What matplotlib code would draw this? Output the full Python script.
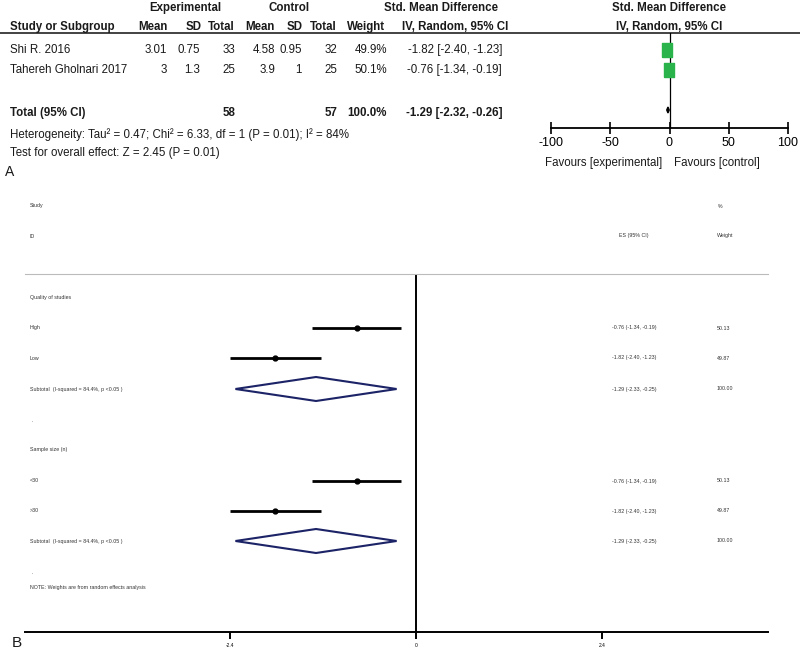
import matplotlib
matplotlib.use('Agg')
import matplotlib.pyplot as plt

# ---- panel A data (RevMan table) ----
studies = ['Shi R. 2016', 'Tahereh Gholnari 2017']
exp_mean = [3.01, 3]
exp_sd = [0.75, 1.3]
exp_n = [33, 25]
ctl_mean = [4.58, 3.9]
ctl_sd = [0.95, 1]
ctl_n = [32, 25]
weights = [49.9, 50.1]
smd = [-1.82, -0.76]
smd_lo = [-2.40, -1.34]
smd_hi = [-1.23, -0.19]
total_smd = -1.29
total_lo = -2.32
total_hi = -0.26
a_ticks = [-100, -50, 0, 50, 100]

# ---- panel B data (Stata subgroup plot) ----
b_labels = ['High', 'Low', '<30', '>30']
b_es = [-0.76, -1.82, -0.76, -1.82]
b_lo = [-1.34, -2.40, -1.34, -2.40]
b_hi = [-0.19, -1.23, -0.19, -1.23]
b_wt = [50.13, 49.87, 50.13, 49.87]
sub_es = [-1.29, -1.29]
sub_lo = [-2.33, -2.33]
sub_hi = [-0.25, -0.25]
b_ticks = [-2.4, 0, 2.4]

W, H = 800, 653
fig = plt.figure(figsize=(W / 100, H / 100), dpi=100)
bg = fig.add_axes([0, 0, 1, 1])
bg.set_xlim(0, W)
bg.set_ylim(H, 0)
bg.axis('off')


def px_axes(x0, y0, x1, y1):
    return fig.add_axes([x0 / W, 1 - y1 / H, (x1 - x0) / W, (y1 - y0) / H])


sans = ['Liberation Sans', 'DejaVu Sans']
fsA = 8.3


def t(x, y, s, ha='left', bold=False, size=fsA, fam=sans, color='#1a1a1a'):
    bg.text(x, y, s, ha=ha, va='center', fontsize=size, family=fam,
            fontweight='bold' if bold else 'normal', color=color)


# ---- panel A table ----
t(185, 8, 'Experimental', ha='center', bold=True)
t(289, 8, 'Control', ha='center', bold=True)
t(441, 8, 'Std. Mean Difference', ha='center', bold=True)
t(669, 8, 'Std. Mean Difference', ha='center', bold=True)
hdr_right = [168, 202, 235, 275, 303, 337, 385, 508]
hdr_names = ['Mean', 'SD', 'Total', 'Mean', 'SD', 'Total', 'Weight', 'IV, Random, 95% CI']
t(10, 27, 'Study or Subgroup', bold=True)
for x, s in zip(hdr_right, hdr_names):
    t(x, 27, s, ha='right', bold=True)
t(669, 27, 'IV, Random, 95% CI', ha='center', bold=True)
bg.plot([0, W], [33, 33], color='#222222', lw=1.2)

row_y = [50, 70]
val_right = [167, 200, 235, 275, 302, 337, 387, 502]
for i, name in enumerate(studies):
    y = row_y[i]
    t(10, y, name)
    vals = ['{:g}'.format(exp_mean[i]), '{:g}'.format(exp_sd[i]), str(exp_n[i]),
            '{:g}'.format(ctl_mean[i]), '{:g}'.format(ctl_sd[i]), str(ctl_n[i]),
            '{:.1f}%'.format(weights[i]),
            '{:.2f} [{:.2f}, {:.2f}]'.format(smd[i], smd_lo[i], smd_hi[i])]
    for x, s in zip(val_right, vals):
        t(x, y, s, ha='right')

tot_y = 113
t(10, tot_y, 'Total (95% CI)', bold=True)
t(val_right[2], tot_y, str(sum(exp_n)), ha='right', bold=True)
t(val_right[5], tot_y, str(sum(ctl_n)), ha='right', bold=True)
t(val_right[6], tot_y, '100.0%', ha='right', bold=True)
t(val_right[7], tot_y, '{:.2f} [{:.2f}, {:.2f}]'.format(total_smd, total_lo, total_hi),
  ha='right', bold=True)
t(10, 135, 'Heterogeneity: Tau² = 0.47; Chi² = 6.33, df = 1 (P = 0.01); I² = 84%')
t(10, 153, 'Test for overall effect: Z = 2.45 (P = 0.01)')
t(5, 172, 'A', size=10)
t(662, 163, 'Favours [experimental]', ha='right')
t(674, 163, 'Favours [control]')

# ---- panel A forest ----
axA = px_axes(551, 33, 788, 128)
axA.set_xlim(-100, 100)
axA.set_ylim(128, 33)
axA.patch.set_alpha(0)
for s in ['top', 'left', 'right']:
    axA.spines[s].set_visible(False)
axA.spines['bottom'].set_linewidth(1.3)
axA.axvline(0, color='black', lw=0.9)
axA.hlines(row_y, smd_lo, smd_hi, color='black', lw=0.8)
rect = [(-0.35, -0.5), (0.35, -0.5), (0.35, 0.5), (-0.35, 0.5), (-0.35, -0.5)]
axA.plot(smd, row_y, ls='none', marker=rect, ms=10, color='#2bb34b', mec='#2bb34b')
axA.fill([total_lo, total_smd, total_hi, total_smd],
         [tot_y - 3, tot_y - 6, tot_y - 3, tot_y],
         color='black')
axA.set_xticks(a_ticks)
axA.set_xticklabels([str(v) for v in a_ticks], fontsize=9, family=sans)
axA.tick_params(axis='x', direction='inout', length=9, width=1.2, pad=2)
axA.set_yticks([])

# ---- panel B text ----
fsB = 3.8


def tb(x, y, s, ha='left'):
    t(x, y, s, ha=ha, size=fsB, color='#333333')


tb(30, 206, 'Study')
tb(30, 236, 'ID')
tb(634, 236, 'ES (95% CI)', ha='center')
tb(718, 206, '%')
tb(717, 236, 'Weight')

item_y = [328, 358, 481, 511]
sub_y = [389, 541]
tb(30, 298, 'Quality of studies')
tb(30, 450, 'Sample size (n)')
for lab, y, e, l, h, w in zip(b_labels, item_y, b_es, b_lo, b_hi, b_wt):
    tb(30, y, lab)
    tb(634, y, '{:.2f} ({:.2f}, {:.2f})'.format(e, l, h), ha='center')
    tb(717, y, '{:.2f}'.format(w))
for y, e, l, h in zip(sub_y, sub_es, sub_lo, sub_hi):
    tb(30, y, 'Subtotal  (I-squared = 84.4%, p <0.05 )')
    tb(634, y, '{:.2f} ({:.2f}, {:.2f})'.format(e, l, h), ha='center')
    tb(717, y, '100.00')
tb(32, 420, '.')
tb(32, 572, '.')
tb(30, 587, 'NOTE: Weights are from random effects analysis')
t(12, 643, 'B', size=11)

# ---- panel B forest ----
x0px, x1px, zero_px, unit_px = 25, 768, 416, 77.5
axB = px_axes(x0px, 274, x1px, 632)
axB.set_xlim((x0px - zero_px) / unit_px, (x1px - zero_px) / unit_px)
axB.set_ylim(632, 274)
axB.patch.set_alpha(0)
axB.spines['left'].set_visible(False)
axB.spines['right'].set_visible(False)
axB.spines['top'].set_color('#bbbbbb')
axB.spines['top'].set_linewidth(0.8)
axB.spines['bottom'].set_linewidth(1.4)
axB.axvline(0, color='black', lw=1.4)
axB.hlines(item_y, b_lo, b_hi, color='black', lw=2)
axB.plot(b_es, item_y, 'o', color='black', ms=3.5)
for y, e, l, h in zip(sub_y, sub_es, sub_lo, sub_hi):
    axB.fill([l, e, h, e, l], [y, y - 12, y, y + 12, y], fill=False,
             edgecolor='#1c2366', lw=1.5)
axB.set_xticks(b_ticks)
axB.set_xticklabels(['{:g}'.format(v) for v in b_ticks], fontsize=3.5, family=sans)
axB.tick_params(axis='x', direction='out', length=5, width=1.4, pad=3)
axB.set_yticks([])

fig.savefig('out.png', dpi=100)
